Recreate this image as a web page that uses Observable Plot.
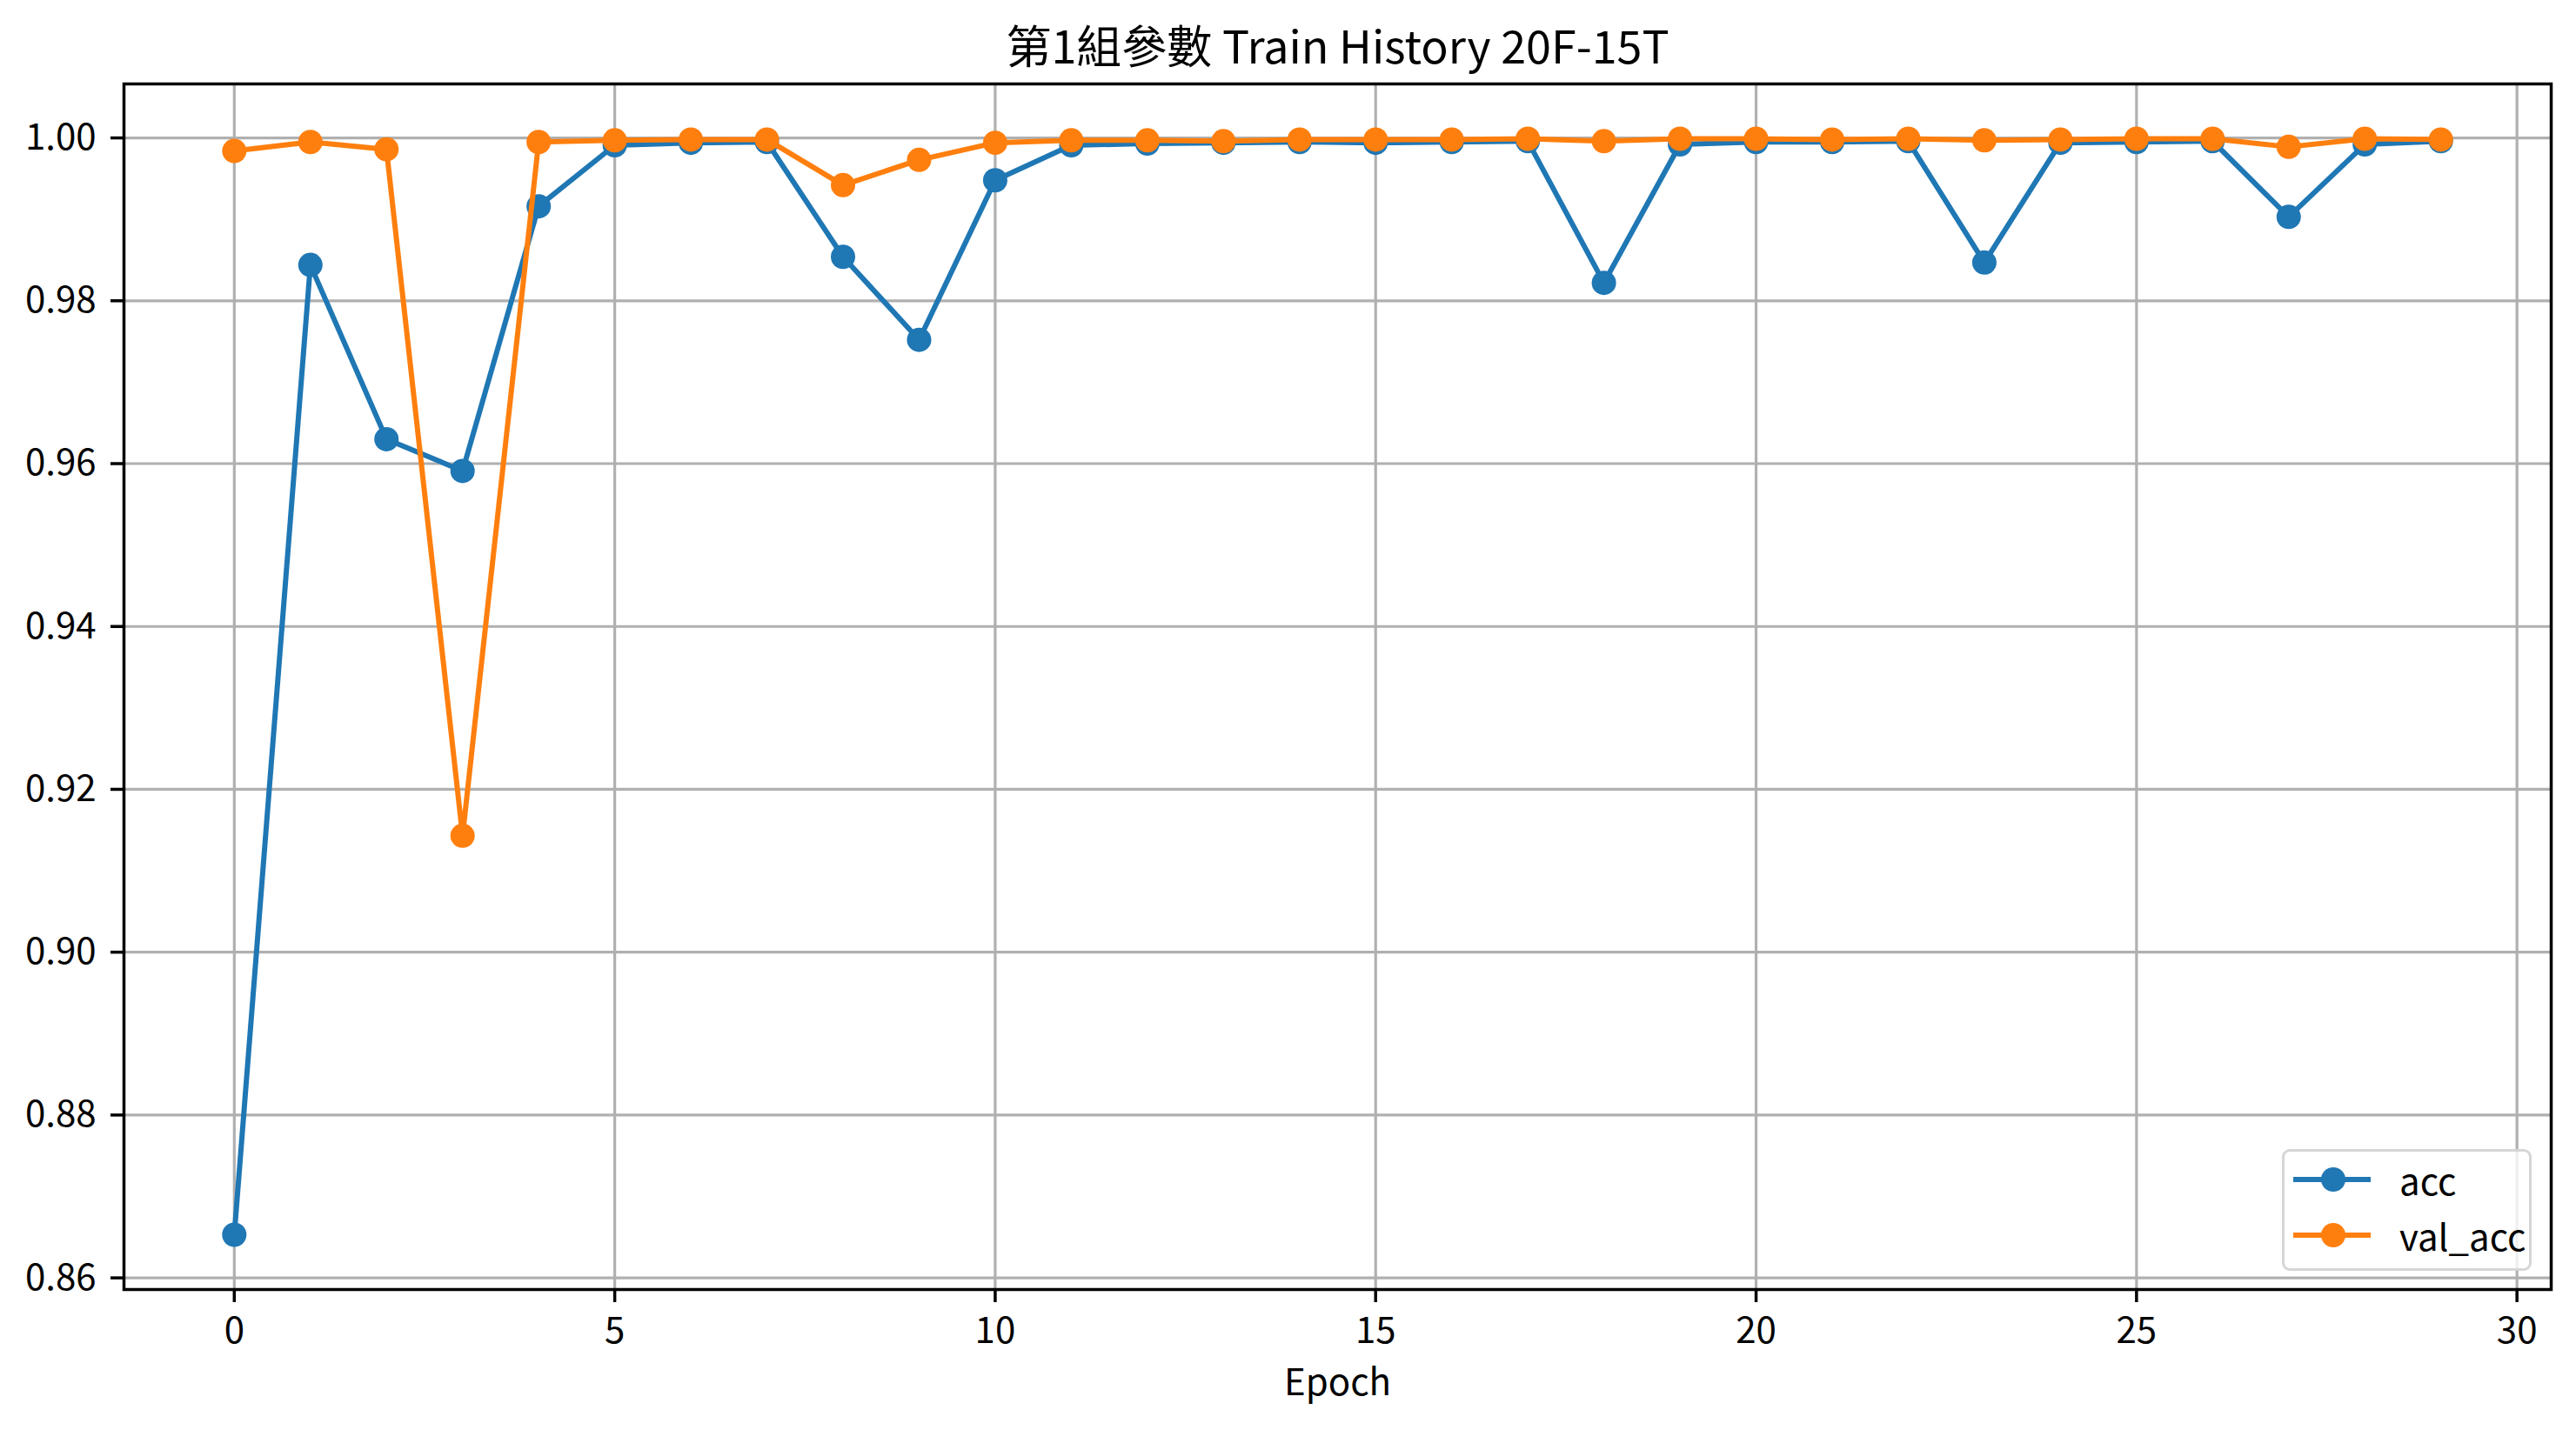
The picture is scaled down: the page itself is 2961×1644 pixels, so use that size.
<!DOCTYPE html>
<html>
<head>
<meta charset="utf-8">
<script src="https://cdn.jsdelivr.net/npm/d3@7"></script>
<script src="https://cdn.jsdelivr.net/npm/@observablehq/plot@0.6"></script>
<style>
  body { margin: 0; background: white; }
  #chart { position: relative; width: 2961px; height: 1644px; }
  .legend {
    position: absolute; left: 2623px; top: 1321px; width: 281px; height: 134px;
    border: 3.5px solid rgba(204, 204, 204, 0.8); border-radius: 9px;
    background: rgba(255, 255, 255, 0.8);
    font-family: 'Noto Sans CJK TC', 'Noto Sans', sans-serif; font-size: 42px;
  }
</style>
</head>
<body>
<div id="chart"></div>
<script>
const title = '第1組參數 Train History 20F-15T'
const xLabel = 'Epoch'

const epochs = [0, 1, 2, 3, 4, 5, 6, 7, 8, 9, 10, 11, 12, 13, 14, 15, 16, 17, 18, 19, 20, 21, 22, 23, 24, 25, 26, 27, 28, 29]
const acc = [0.8653, 0.9844, 0.9630, 0.9591, 0.9916, 0.9991, 0.9994, 0.9995, 0.9854, 0.9752,
             0.9948, 0.9991, 0.9993, 0.9994, 0.9995, 0.9994, 0.9995, 0.9996, 0.9822, 0.9992,
             0.9995, 0.9995, 0.9996, 0.9847, 0.9994, 0.9995, 0.9996, 0.9903, 0.9992, 0.9996]
const valAcc = [0.9984, 0.9995, 0.9986, 0.9143, 0.9995, 0.9997, 0.9998, 0.9998, 0.9942, 0.9973,
                0.9994, 0.9997, 0.9997, 0.9996, 0.9998, 0.9998, 0.9998, 0.9999, 0.9996, 0.9999,
                0.9999, 0.9998, 0.9999, 0.9997, 0.9998, 0.9999, 0.9999, 0.9989, 0.9999, 0.9998]

const seriesNames = ['acc', 'val_acc']
const seriesColors = ['#1f77b4', '#ff7f0e']
const xTicks = [0, 5, 10, 15, 20, 25, 30]
const yTicks = [0.86, 0.88, 0.90, 0.92, 0.94, 0.96, 0.98, 1.00]

// filas largas: una por epoch y serie
const rows = [acc, valAcc].flatMap((vals, i) =>
  vals.map((v, j) => ({epoch: epochs[j], value: v, series: seriesNames[i]})))

// margen del 5% como matplotlib
const xPad = (d3.max(epochs) - d3.min(epochs)) * 0.05
const [yLo, yHi] = d3.extent(rows, d => d.value)
const yPad = (yHi - yLo) * 0.05

const gridStyle = {stroke: '#b0b0b0', strokeOpacity: 1, strokeWidth: 3.2}

const seriesMarks = seriesNames.flatMap((name, i) => {
  const data = rows.filter(d => d.series === name)
  return [
    Plot.line(data, {x: 'epoch', y: 'value', stroke: seriesColors[i], strokeWidth: 6}),
    Plot.dot(data, {x: 'epoch', y: 'value', fill: seriesColors[i], r: 14, stroke: null})
  ]
})

const chart = Plot.plot({
  width: 2961,
  height: 1644,
  marginLeft: 142,
  marginRight: 29,
  marginTop: 96,
  marginBottom: 162,
  style: {
    fontFamily: "'Noto Sans CJK TC', 'Noto Sans', sans-serif",
    fontSize: '42px',
    background: 'white',
    color: 'black'
  },
  x: {domain: [d3.min(epochs) - xPad, d3.max(epochs) + xPad]},
  y: {domain: [yLo - yPad, yHi + yPad]},
  marks: [
    Plot.gridX(xTicks, gridStyle),
    Plot.gridY(yTicks, gridStyle),
    ...seriesMarks,
    Plot.frame({stroke: 'black', strokeWidth: 3.5}),
    Plot.axisX({ticks: xTicks, tickSize: 15, tickPadding: 17, strokeWidth: 3.5, label: null, fontSize: 42}),
    Plot.axisY({ticks: yTicks, tickSize: 15, tickPadding: 17, strokeWidth: 3.5, label: null, fontSize: 42,
                tickFormat: d3.format('.2f')}),
    Plot.text([title], {text: d => d, frameAnchor: 'top', lineAnchor: 'middle', dy: -40, fontSize: 52}),
    Plot.text([xLabel], {text: d => d, frameAnchor: 'bottom', lineAnchor: 'middle', dy: 108, fontSize: 42})
  ]
})

const holder = d3.select('#chart')
holder.append(() => chart)

/* leyenda abajo a la derecha */
const legend = holder.append('div').attr('class', 'legend')
seriesNames.forEach((name, i) => {
  const row = legend.append('div')
    .style('position', 'absolute')
    .style('left', '10px')
    .style('top', `${i * 64 + 7}px`)
    .style('height', '50px')
    .style('display', 'flex')
    .style('align-items', 'center')
  const sw = row.append('svg').attr('width', 90).attr('height', 50)
  sw.append('line').attr('x1', 0).attr('x2', 89).attr('y1', 25).attr('y2', 25)
    .attr('stroke', seriesColors[i]).attr('stroke-width', 6)
  sw.append('circle').attr('cx', 46).attr('cy', 25).attr('r', 14).attr('fill', seriesColors[i])
  row.append('span').style('margin-left', '32px').style('line-height', '50px').text(name)
})
</script>
</body>
</html>
